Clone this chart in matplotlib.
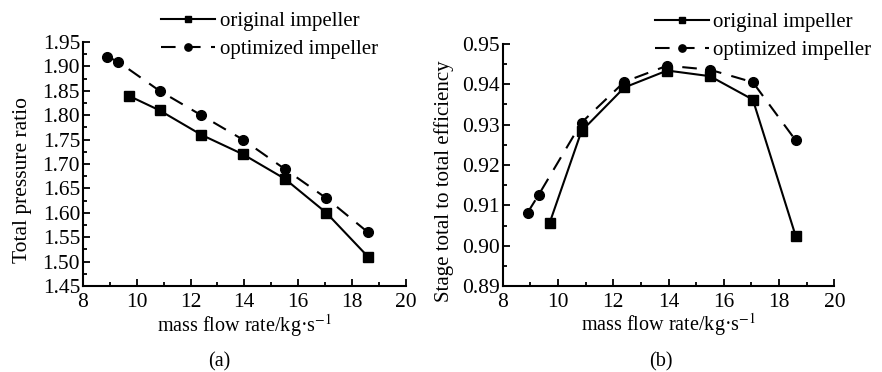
import matplotlib
matplotlib.use('Agg')
import matplotlib.pyplot as plt
from matplotlib.ticker import MultipleLocator

# mass flow rate (kg/s) for each operating point
flow_orig = [9.7, 10.85, 12.4, 13.95, 15.5, 17.05, 18.6]
flow_opt = [8.9, 9.3, 10.85, 12.4, 13.95, 15.5, 17.05, 18.6]

# (a) total pressure ratio
pr_orig = [1.84, 1.81, 1.76, 1.72, 1.67, 1.60, 1.51]
pr_opt = [1.92, 1.91, 1.85, 1.80, 1.75, 1.69, 1.63, 1.56]

# (b) stage total-to-total efficiency
eff_orig = [0.9057, 0.9284, 0.9392, 0.9434, 0.9420, 0.9362, 0.9024]
eff_opt = [0.9082, 0.9126, 0.9305, 0.9406, 0.9446, 0.9436, 0.9405, 0.9261]

labels = ['original impeller', 'optimized impeller']

plt.rcParams['font.family'] = ['Liberation Serif', 'DejaVu Serif']
plt.rcParams['mathtext.fontset'] = 'stix'

fig = plt.figure(figsize=(8.82, 3.72), dpi=100)
ax1 = fig.add_axes([0.094, 0.231, 0.366, 0.656])
ax2 = fig.add_axes([0.570, 0.231, 0.376, 0.651])


def style(ax, ylim, ymajor):
    ax.set_xlim(8, 20)
    ax.set_ylim(*ylim)
    ax.xaxis.set_major_locator(MultipleLocator(2))
    ax.xaxis.set_minor_locator(MultipleLocator(1))
    ax.yaxis.set_major_locator(MultipleLocator(ymajor))
    ax.yaxis.set_minor_locator(MultipleLocator(ymajor / 2))
    ax.yaxis.set_major_formatter('{x:.2f}')
    ax.spines['top'].set_visible(False)
    ax.spines['right'].set_visible(False)
    for s in ('left', 'bottom'):
        ax.spines[s].set_linewidth(1.5)
    ax.tick_params(which='both', direction='in', width=1.3, labelsize=15.5)
    ax.tick_params(axis='x', pad=5)
    ax.tick_params(axis='y', pad=2)
    ax.tick_params(which='major', length=5)
    ax.tick_params(which='minor', length=3)
    ax.set_xlabel('mass flow rate/kg·s$^{-1}$', fontsize=14.5)
    ax.xaxis.set_label_coords(0.5, -0.105)


def draw(ax, y1, y2, anchor):
    ax.plot(flow_orig, y1, color='black', marker='s', markersize=6.5, linewidth=1.5, label=labels[0])
    ax.plot(flow_opt, y2, color='black', marker='o', markersize=7, linewidth=1.5,
            linestyle=(0, (7, 5)), label=labels[1])
    leg = ax.legend(loc='upper right', bbox_to_anchor=anchor, frameon=False, fontsize=15,
                    handlelength=2.6, handletextpad=0.2, labelspacing=0.4, borderpad=0,
                    borderaxespad=0, markerscale=0.75)
    return leg


draw(ax1, pr_orig, pr_opt, (0.913, 1.125))
style(ax1, (1.45, 1.95), 0.05)
ax1.set_ylabel('Total pressure ratio', fontsize=15.5)
ax1.yaxis.set_label_coords(-0.158, 0.434)

draw(ax2, eff_orig, eff_opt, (1.112, 1.13))
style(ax2, (0.89, 0.95), 0.01)
ax2.set_ylabel('Stage total to total efficiency', fontsize=15)
ax2.yaxis.set_label_coords(-0.148, 0.434)

fig.text(0.249, 0.015, '(a)', ha='center', fontsize=14.5)
fig.text(0.749, 0.015, '(b)', ha='center', fontsize=14.5)

fig.savefig('out.png', dpi=100)
